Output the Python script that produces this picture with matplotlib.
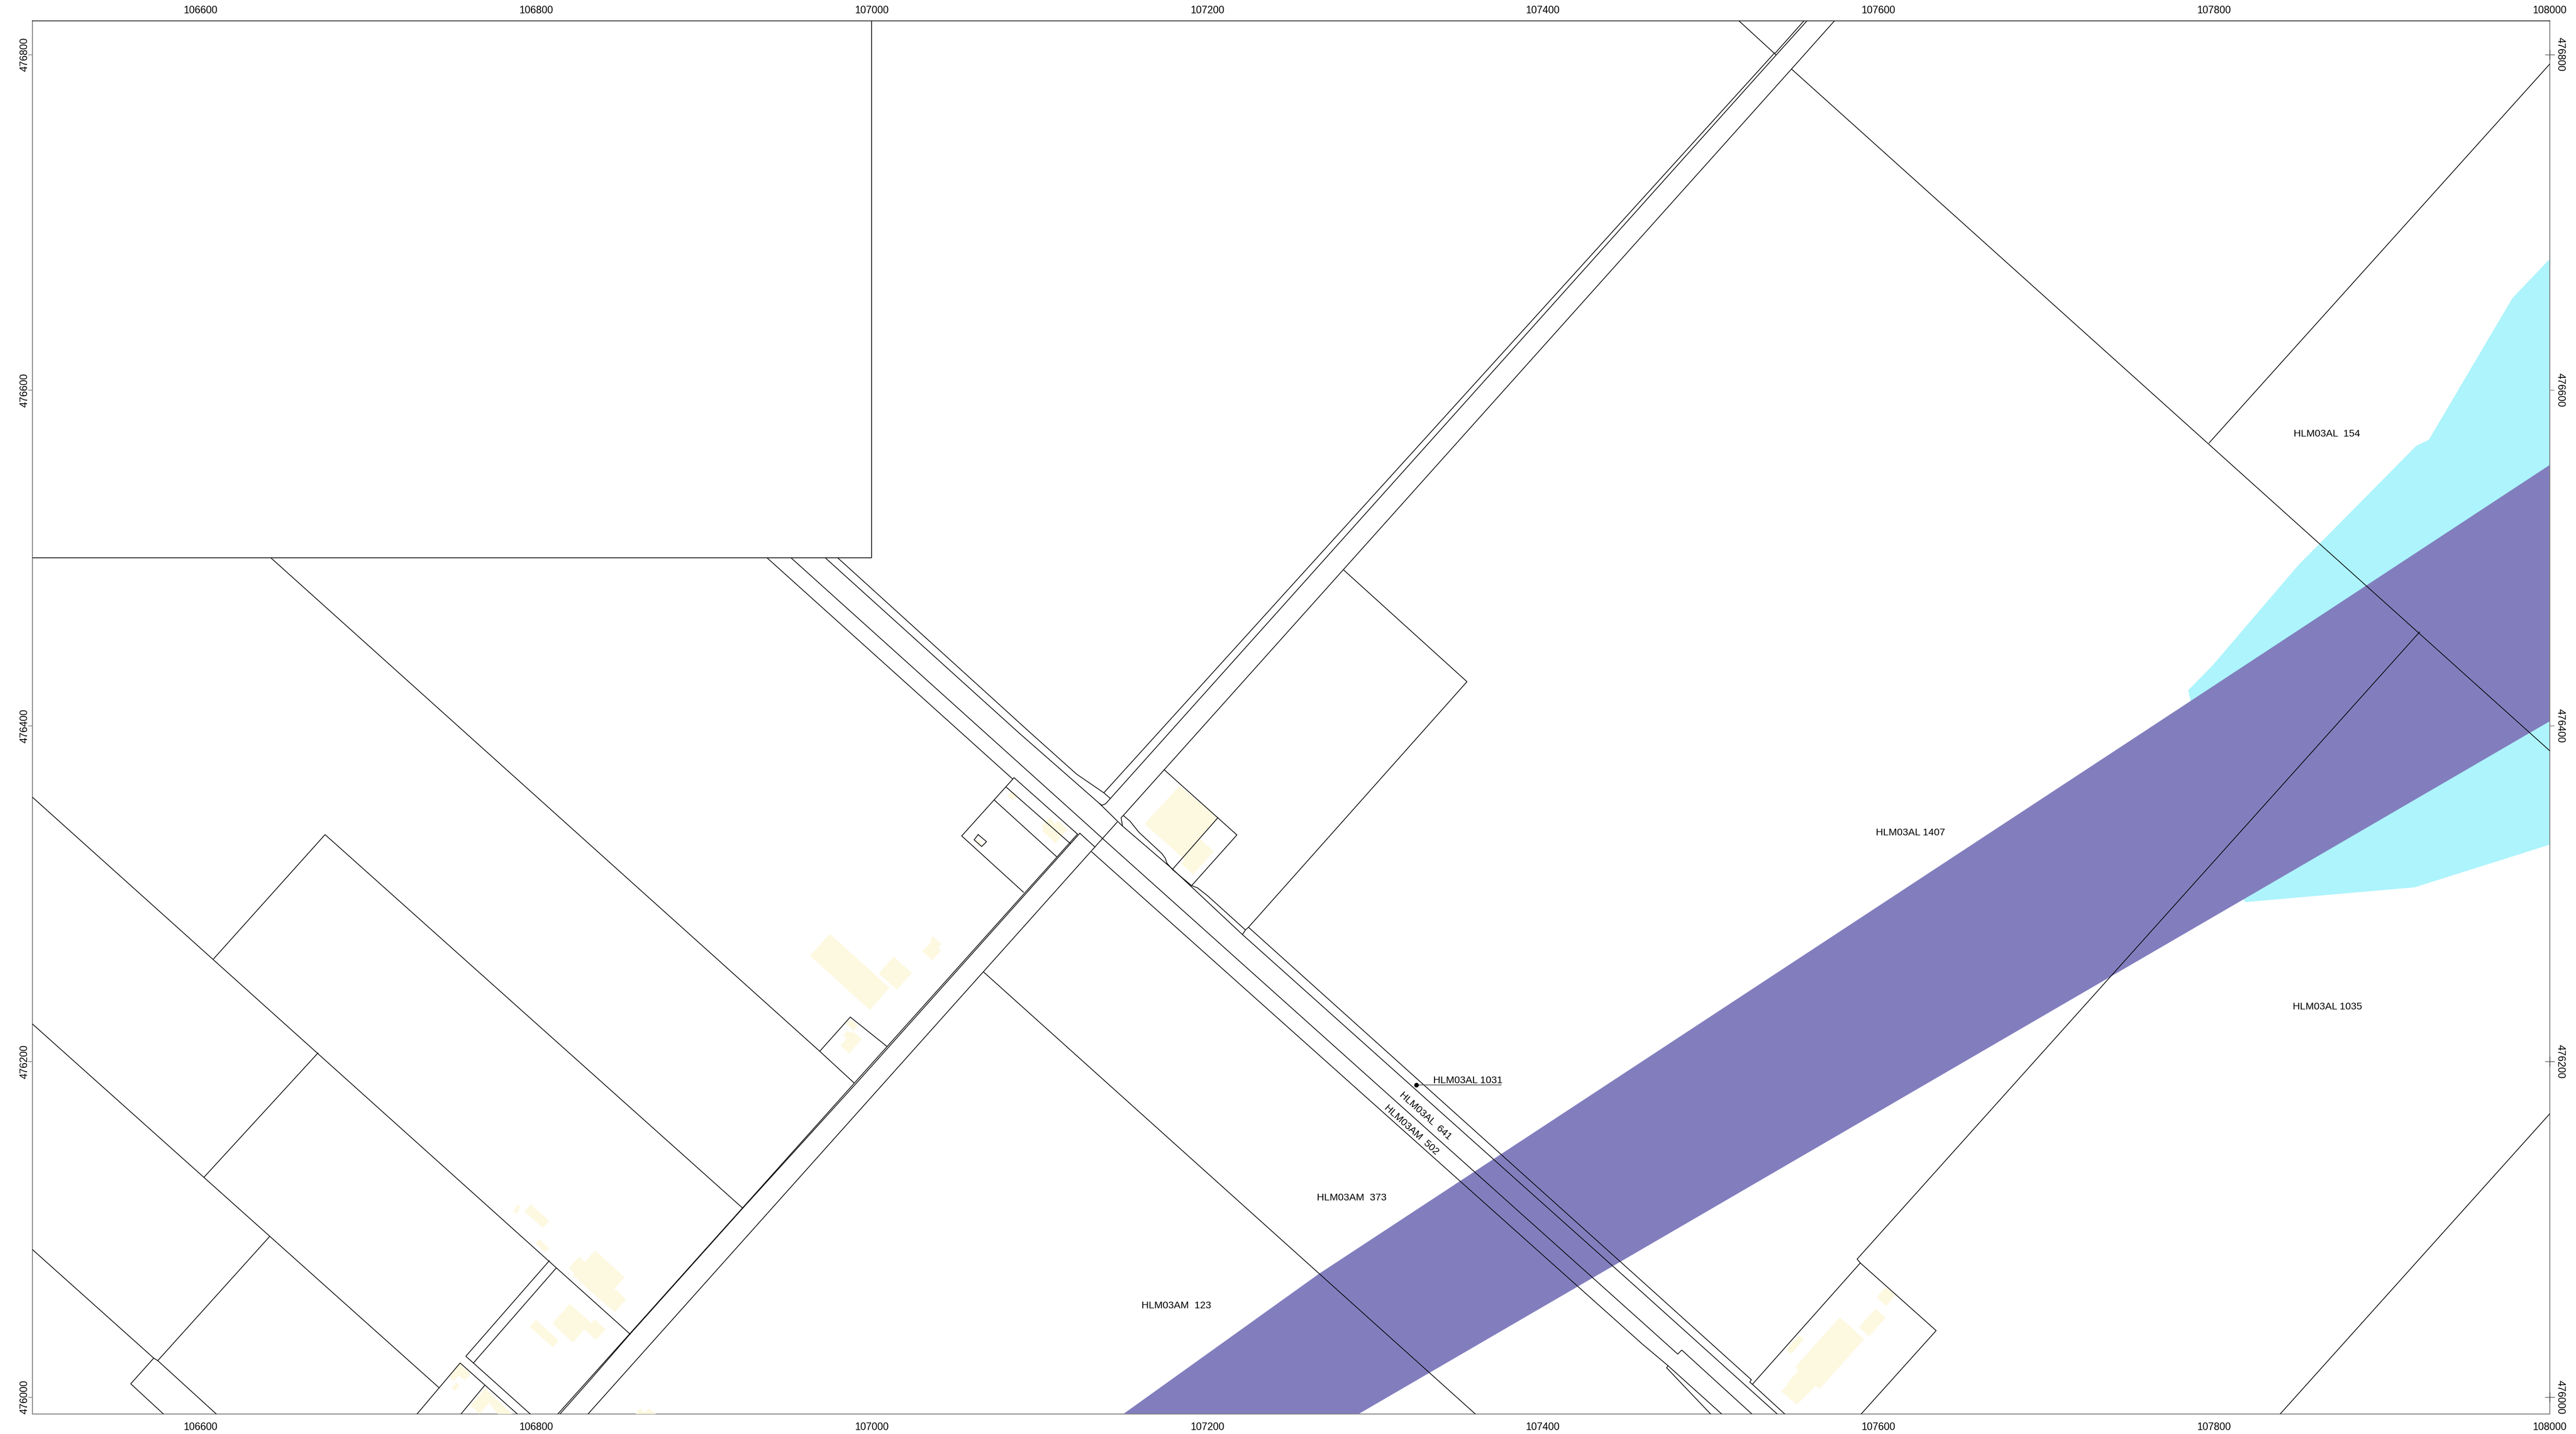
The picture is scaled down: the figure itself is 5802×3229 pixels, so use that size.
import numpy as np
import matplotlib
matplotlib.use("Agg")
import matplotlib.pyplot as plt
from matplotlib.transforms import ScaledTranslation

plt.rcParams['font.family'] = ['Liberation Sans', 'DejaVu Sans']

x_ticks = [106600, 106800, 107000, 107200, 107400, 107600, 107800, 108000]
y_ticks = [476000, 476200, 476400, 476600, 476800]
cross_y = [476000, 476200, 476800]

# zones (RD coordinates)
zone_cyan = [(108000, 476678.1), (107977.8, 476654.8), (107928.0, 476570.4), (107920.4, 476566.7),
             (107850.3, 476495.8), (107798.7, 476435.5), (107784.6, 476421.2), (107811.4, 476303.2),
             (107818.8, 476295.0), (107919.6, 476303.8), (108000, 476329.2)]
zone_purple = [(108000, 476555.4), (107266.7, 476073.6), (107150.0, 475990), (107290.2, 475990),
               (108000, 476402.7)]

# buildings
b1 = [(106975.1, 476276.0), (107010.6, 476244.0), (106998.9, 476230.7), (106963.2, 476263.0)]
b2 = [(107013.2, 476262.5), (107024.1, 476252.7), (107015.1, 476242.9), (107004.2, 476252.4)]
b3 = [(107036.8, 476274.4), (107041.8, 476269.9), (107039.7, 476267.8), (107041.3, 476266.2),
      (107036.0, 476260.4), (107030.2, 476265.7), (107035.7, 476271.0), (107034.7, 476272.3)]
b4 = [(106984.7, 476222.5), (106987.3, 476225.2), (106992.1, 476221.8), (106989.2, 476218.3)]
b5 = [(106983.1, 476215.7), (106985.7, 476218.3), (106987.6, 476217.0), (106988.6, 476218.0),
      (106994.2, 476213.3), (106986.5, 476204.8), (106981.5, 476209.6), (106985.2, 476213.8)]
b6 = [(107183.6, 476364.3), (107206.4, 476345.3), (107185.2, 476321.5), (107162.7, 476341.6)]
b7 = [(107195.8, 476332.6), (107204.0, 476325.2), (107191.5, 476311.4), (107184.7, 476317.8),
      (107186.2, 476320.2), (107185.2, 476321.5)]
b8 = [(107106.4, 476345.6), (107109.3, 476341.6), (107111.4, 476343.2), (107116.7, 476338.2),
      (107109.5, 476330.2), (107101.9, 476337.1), (107102.6, 476338.2), (107101.3, 476340.3)]
b9 = [(107083.6, 476360.9), (107087.0, 476358.3), (107084.1, 476355.6), (107080.7, 476358.5)]
b10 = [(107063.2, 476332.6), (107066.1, 476330.5), (107064.3, 476328.9), (107061.6, 476331.3)]
b11 = [(106788.9, 476114.9), (106790.7, 476113.8), (106788.9, 476109.6), (106786.5, 476110.4)]
b12 = [(106796.8, 476114.9), (106807.9, 476105.1), (106804.2, 476100.9), (106793.1, 476110.6)]
b13 = [(106801.9, 476094.2), (106807.9, 476088.7), (106805.6, 476086.3), (106799.7, 476091.6)]
b14 = [(106835.2, 476087.4), (106852.7, 476071.5), (106846.8, 476064.6), (106853.7, 476058.5),
       (106847.1, 476050.6), (106837.8, 476058.5), (106822.2, 476072.5), (106822.8, 476074.1),
       (106819.6, 476077.0), (106825.7, 476083.7), (106829.1, 476080.7)]
b15 = [(106820.1, 476055.6), (106833.1, 476044.2), (106834.9, 476046.4), (106841.5, 476040.5),
       (106835.7, 476034.2), (106828.8, 476040.5), (106822.0, 476032.6), (106809.8, 476044.0)]
b16 = [(106800.0, 476046.1), (106813.5, 476033.7), (106810.1, 476029.7), (106796.3, 476041.9)]
b17 = [(106769.6, 476005.3), (106785.7, 475990), (106777.3, 475990), (106772.2, 475996.6),
       (106766.4, 475990), (106760.9, 475995.0)]
b18 = [(106754.5, 476020.4), (106760.9, 476013.6), (106757.7, 476010.1), (106754.0, 476013.0),
       (106750.8, 476009.6), (106748.2, 476012.5)]
b19 = [(106752.4, 476008.8), (106754.5, 476006.9), (106751.6, 476003.8), (106749.7, 476005.6)]
b20 = [(106861.9, 475993.4), (106864.8, 475990.8), (106867.2, 475993.4), (106871.4, 475990), (106859.3, 475990)]
b21 = [(107577.0, 476047.7), (107591.5, 476034.5), (107564.8, 476004.8), (107562.7, 476006.7),
       (107555.0, 475999.0), (107551.3, 475995.6), (107542.1, 476003.5), (107546.0, 476007.5),
       (107545.5, 476008.2), (107552.4, 476015.9), (107550.3, 476017.8)]
b22 = [(107598.2, 476052.7), (107604.2, 476047.4), (107594.5, 476036.3), (107588.4, 476041.6)]
b23 = [(107604.5, 476065.7), (107610.3, 476060.9), (107604.5, 476054.3), (107598.9, 476059.6)]
b24 = [(107552.7, 476037.1), (107555.6, 476034.5), (107548.2, 476026.0), (107545.0, 476028.1)]
buildings = [b1, b2, b3, b4, b5, b6, b7, b8, b9, b10, b11, b12, b13, b14, b15, b16, b17, b18, b19, b20, b21, b22, b23, b24]

# parcel boundaries
block = [(107000, 476820), (107000, 476500), (106500, 476500)]
west_1 = [(106500, 476357.4), (106856.1, 476037.6)]
west_2 = [(106500, 476222.3), (106742.3, 476005.6)]
west_3 = [(106500, 476087.9), (106572.2, 476023.3), (106574.6, 476021.8), (106609.5, 475990)]
west_4 = [(106607.9, 476261.2), (106674.3, 476335.2), (106923.0, 476112.8)]
west_5 = [(106602.1, 476131.0), (106670.1, 476205.1)]
west_6 = [(106641.3, 476095.8), (106574.6, 476021.8)]
west_7 = [(106572.2, 476023.3), (106558.5, 476008.0), (106578.0, 475990)]
west_8 = [(106807.9, 476081.3), (106758.2, 476024.4), (106762.7, 476020.4), (106796.6, 475990)]
west_9 = [(106811.9, 476076.8), (106762.7, 476020.4)]
west_10 = [(106729.1, 475990), (106754.8, 476020.4), (106788.9, 475990)]
west_11 = [(106769.3, 476006.9), (106755.3, 475990)]
west_12 = [(106642.1, 476500), (106969.1, 476206.1), (106989.4, 476187.4)]
west_13 = [(106969.1, 476206.1), (106987.3, 476226.5), (107009.0, 476209.1)]

# road running NE (left side of the crossing), the two inner lines nearly touch midway
ne_1 = [(107122.7, 476335.5), (106813.0, 475990)]
ne_2 = [(107124.1, 476336.0), (106991.2, 476187.4), (106923.4, 476112.8), (106855.5, 476037.0),
        (106832.0, 476010.0), (106814.3, 475990)]
ne_3 = [(107146.3, 476342.6), (106831.0, 475990)]
ne_4 = [(107124.1, 476336.0), (107133.1, 476327.8)]

# corner parcel at the crossing
corner_1 = [(107084.9, 476369.1), (107053.7, 476334.4), (107090.5, 476300.9)]
corner_2 = [(107084.9, 476369.1), (107122.7, 476335.5)]
corner_3 = [(107080.2, 476363.5), (107118.3, 476330.0)]
corner_4 = [(107073.0, 476355.9), (107110.3, 476322.0)]
shed = [(107063.5, 476335.2), (107068.5, 476331.0), (107065.6, 476328.1), (107061.1, 476332.1), (107063.5, 476335.2)]

# road running SE
se_a = [(106937.8, 476500), (107084.1, 476368.3)]
se_b = [(106952.1, 476500), (107128.0, 476341.6), (107137.6, 476332.9), (107459.5, 476044.5),
        (107480.4, 476025.7), (107482.8, 476028.1), (107524.6, 475990)]
se_c = [(106972.5, 476500), (107087.8, 476395.8), (107135.7, 476353.8), (107149.5, 476340.3),
        (107179.1, 476314.9), (107220.6, 476276.0), (107459.5, 476062.2), (107539.7, 475990)]
se_d = [(106979.9, 476500), (107094.7, 476395.8), (107122.2, 476371.2), (107138.4, 476360.1),
        (107142.3, 476356.7), (107139.4, 476353.5), (107137.3, 476352.7), (107135.7, 476353.8)]
se_e = [(107224.6, 476280.0), (107459.5, 476068.8), (107524.3, 476010.4), (107523.3, 476009.0),
        (107524.9, 476007.7), (107544.2, 475990)]
se_f = [(107131.2, 476324.9), (107459.5, 476031.5), (107474.6, 476018.8), (107506.6, 475990)]
se_g = [(107474.6, 476018.8), (107473.8, 476017.5), (107500.0, 475990)]
se_h = [(107066.9, 476253.2), (107359.8, 475990)]

# road running NE (right side of the crossing)
ne_5 = [(107138.4, 476360.1), (107538.1, 476800.9)]
ne_6 = [(107538.6, 476800.9), (107555.6, 476820)]
ne_7 = [(107142.3, 476356.7), (107539.2, 476799.8), (107557.4, 476820)]
ne_8 = [(107516.9, 476820), (107538.9, 476799.8)]
ne_9 = [(107573.8, 476820), (107548.2, 476791.3), (107150.0, 476346.6), (107148.7, 476345.3), (107149.5, 476340.3)]
far_se = [(107548.2, 476791.3), (108000, 476385.2)]

ditch = [(107150.0, 476346.6), (107154.0, 476343.2), (107159.3, 476336.6), (107173.0, 476323.9),
         (107175.1, 476321.0), (107175.9, 476318.3), (107179.4, 476314.3), (107190.7, 476304.8),
         (107194.2, 476303.5), (107200.3, 476298.7), (107222.8, 476278.4), (107221.2, 476276.0)]
east_1 = [(107174.3, 476373.9), (107217.7, 476335.0), (107190.7, 476304.8)]
east_2 = [(107206.4, 476345.3), (107179.4, 476314.6)]
east_3 = [(107281.5, 476492.7), (107354.8, 476426.3), (107224.6, 476280.0), (107222.8, 476278.4)]
east_4 = [(107524.9, 476007.7), (107589.2, 476080.0), (107587.3, 476082.3), (107922.5, 476455.9)]
east_5 = [(107589.2, 476080.0), (107634.4, 476039.7), (107589.7, 475990)]
east_6 = [(107797.1, 476568.6), (108000, 476794.2)]
east_7 = [(108000, 476168.8), (107839.4, 475990)]

parcels = [block, west_1, west_2, west_3, west_4, west_5, west_6, west_7, west_8, west_9, west_10, west_11,
           west_12, west_13, ne_1, ne_2, ne_3, ne_4, corner_1, corner_2, corner_3, corner_4, shed,
           se_a, se_b, se_c, se_d, se_e, se_f, se_g, se_h, ne_5, ne_6, ne_7, ne_8, ne_9, far_se, ditch,
           east_1, east_2, east_3, east_4, east_5, east_6, east_7]

label_names = ['HLM03AL  154', 'HLM03AL 1407', 'HLM03AL 1035', 'HLM03AM  373', 'HLM03AM  123',
               'HLM03AL 1031', 'HLM03AL  641', 'HLM03AM  502']
label_x = [107867.2, 107619.1, 107867.7, 107286.2, 107181.5, 107355.3, 107330.0, 107321.6]
label_y = [476573.9, 476336.3, 476232.6, 476118.8, 476054.3, 476188.7, 476167.6, 476159.1]
label_rot = [0, 0, 0, 0, 0, 0, -42, -42]
leader_x = [107324.6, 107375.1]
leader_y = [476186.0, 476186.0]

fig = plt.figure(figsize=(58.02, 32.29), dpi=100)
ax = fig.add_axes([73 / 5802, 45 / 3229, 5670 / 5802, 3137 / 3229])

ax.fill(*zip(*zone_cyan), color='#adf4fc', lw=0, zorder=1)
ax.fill(*zip(*zone_purple), color='#827ebe', lw=0, zorder=2)
for b in buildings:
    ax.fill(*zip(*b), color='#fdf8e0', lw=0, zorder=3)
for p in parcels:
    ax.plot(*zip(*p), color='black', lw=1.2, zorder=4)

for name, x, y, r in zip(label_names, label_x, label_y, label_rot):
    ax.text(x, y, name, fontsize=16.2, ha='center', va='center', rotation=r,
            rotation_mode='anchor', color='black', zorder=6)
ax.plot(leader_x, leader_y, color='#444444', lw=1.1, zorder=5)
ax.plot(leader_x[0], leader_y[0], 'o', color='black', ms=7.5, mew=0, zorder=5)
ax.plot([x_ticks[-1]] * len(cross_y), cross_y, '+', color='#333333', ms=16, mew=0.8, clip_on=False, zorder=7)

ax.set_xlim(106500, 108000)
ax.set_ylim(475990, 476820)
ax.set_aspect('equal', adjustable='box')

ax.set_xticks(x_ticks)
ax.set_xticklabels([str(v) for v in x_ticks])
ax.set_xticks([x_ticks[-1]], minor=True)
ax.set_yticks(y_ticks)
ax.set_yticklabels([str(v) for v in y_ticks])
ax.tick_params(axis='x', which='major', length=0, labelsize=16.6, pad=11, top=True, bottom=True,
               labeltop=True, labelbottom=True)
ax.tick_params(axis='x', which='minor', length=7, width=1.2, color='#808080', top=True, bottom=True)
ax.tick_params(axis='y', which='major', length=7, width=0.8, color='#555555', labelsize=16.6, pad=2,
               left=True, right=True, labelleft=True, labelright=True)

# nudge tick labels: x labels sit a little lower, left y labels closer to the frame
down = ScaledTranslation(0, -3 / 100, fig.dpi_scale_trans)
right = ScaledTranslation(6 / 100, 0, fig.dpi_scale_trans)
for t in ax.xaxis.get_major_ticks():
    t.label1.set_transform(t.label1.get_transform() + down)
    t.label2.set_transform(t.label2.get_transform() + down)
for t in ax.yaxis.get_major_ticks():
    t.label1.set_rotation(90)
    t.label1.set_va('center')
    t.label1.set_transform(t.label1.get_transform() + right)
    t.label2.set_rotation(270)
    t.label2.set_va('center')

for side in ['left', 'right', 'bottom']:
    ax.spines[side].set_color('#808080')
    ax.spines[side].set_linewidth(1.5)
ax.spines['top'].set_color('black')
ax.spines['top'].set_linewidth(1.1)

plt.savefig('out.png', dpi=100)
